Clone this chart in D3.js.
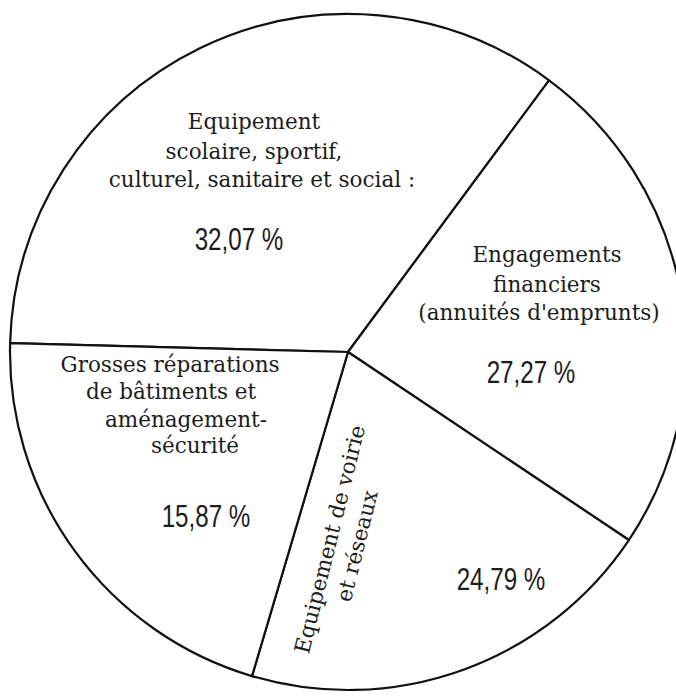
<!DOCTYPE html>
<html>
<head>
<meta charset="utf-8">
<script src="https://cdn.jsdelivr.net/npm/d3@7"></script>
<style>
  body { margin: 0; background: #fff; }
  svg { display: block; }
  .label { font-family: "DejaVu Serif", serif; font-size: 21.5px; fill: #1c1c1c; }
  .pct { font-family: "Liberation Sans", sans-serif; font-size: 31px; fill: #1c1c1c; }
</style>
</head>
<body>
<div id="pie"></div>
<script>
var svgWidth = 676;
var svgHeight = 699;

// categories, clockwise from the left horizontal spoke
var categories = ["scolaire", "engagements", "voirie", "grosses"];

// percentages printed on the chart
var printedPct = [32.07, 27.27, 24.79, 15.87];

// arc of each slice as it is drawn in the picture (degrees)
var drawnArc = [125, 87.3, 72.7, 75];

// text lines of each label
var labelLines = [
  ["Equipement", "scolaire, sportif,", "culturel, sanitaire et social :"],
  ["Engagements", "financiers", "(annuités d'emprunts)"],
  ["Equipement de voirie", "et réseaux"],
  ["Grosses réparations", "de bâtiments et", "aménagement-", "sécurité"]
];

// layout
var cx = 348, cy = 352, radius = 338;
var startDeg = 271.5;

var svg = d3.select("#pie")
  .append("svg")
  .attr("width", svgWidth)
  .attr("height", svgHeight);

svg.append("rect")
  .attr("width", svgWidth)
  .attr("height", svgHeight)
  .attr("fill", "#fff");

var toRad = Math.PI / 180;

var pie = d3.pie()
  .sort(null)
  .value(d => d)
  .startAngle(startDeg * toRad)
  .endAngle((startDeg + 360) * toRad);

var arc = d3.arc()
  .innerRadius(0)
  .outerRadius(radius);

var chartGroup = svg.append("g")
  .attr("transform", `translate(${cx}, ${cy})`);

chartGroup.selectAll("path")
  .data(pie(drawnArc))
  .enter()
  .append("path")
  .attr("d", arc)
  .attr("fill", "#fff")
  .attr("stroke", "#111")
  .attr("stroke-width", 2.2)
  .attr("stroke-linejoin", "round");

// label placement (page coordinates), one entry per category
var labelPos = [
  { lines: [[254, 129], [254, 159], [262, 187]], pct: [239, 250] },
  { lines: [[547, 262], [547, 292], [539, 320]], pct: [531, 383] },
  { rotate: -76, at: [337, 541], step: 28, pct: [501, 590] },
  { lines: [[170, 372], [171, 399], [186, 427], [195, 453]], pct: [206, 527] }
];

function fmtPct(v) {
  return v.toFixed(2).replace(".", ",") + " %";
}

categories.forEach(function(cat, i) {
  var pos = labelPos[i];
  var g = svg.append("g").attr("class", "lbl-" + cat);

  if (pos.rotate !== undefined) {
    var rg = g.append("g")
      .attr("transform", `translate(${pos.at[0]}, ${pos.at[1]}) rotate(${pos.rotate})`);
    labelLines[i].forEach(function(line, j) {
      rg.append("text")
        .attr("class", "label")
        .attr("x", 0)
        .attr("y", j * pos.step)
        .attr("text-anchor", "middle")
        .text(line);
    });
  } else {
    labelLines[i].forEach(function(line, j) {
      g.append("text")
        .attr("class", "label")
        .attr("x", pos.lines[j][0])
        .attr("y", pos.lines[j][1])
        .attr("text-anchor", "middle")
        .text(line);
    });
  }

  g.append("g")
    .attr("transform", `translate(${pos.pct[0]}, ${pos.pct[1]}) scale(0.78, 1)`)
    .append("text")
    .attr("class", "pct")
    .attr("text-anchor", "middle")
    .text(fmtPct(printedPct[i]));
});
</script>
</body>
</html>
